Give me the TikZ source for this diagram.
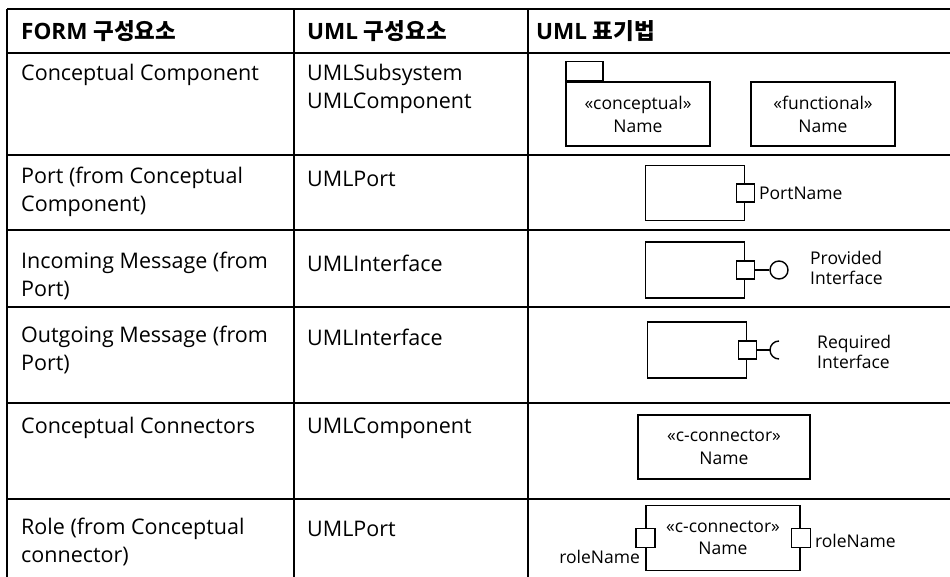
\documentclass[tikz,border=0pt]{standalone}
\usepackage{fontspec}
\setmainfont{Open Sans}
\newfontfamily\kr{Noto Sans CJK KR}
\usetikzlibrary{positioning}

\begin{document}
\begin{tikzpicture}[x=1pt, y=-1pt,
  grid/.style={line width=1.8pt},
  cell/.style={anchor=west, inner sep=0pt, align=left, font=\fontsize{21.5}{28}\selectfont},
  head/.style={cell, font=\fontsize{22.5}{28}\selectfont\bfseries},
  umlbox/.style={draw, line width=1.4pt, inner sep=0pt, align=center, font=\fontsize{17.5}{23}\selectfont},
  port/.style={draw, line width=1.4pt, fill=white, inner sep=0pt, minimum size=18pt},
  small/.style={inner sep=0pt, align=left, font=\fontsize{17.5}{20}\selectfont}]
\useasboundingbox (0,0) rectangle (950,577);

% table lines
\foreach \y in {9,53,155,230,307,403,499}
  \draw[grid] (7,\y) -- (950,\y);
\foreach \x in {7,294,528}
  \draw[grid] (\x,9) -- (\x,577);

% header
\node[head] (h1) at (21,31) {FORM {\kr 구성요소}};
\node[head] (h2) at (307,31) {UML {\kr 구성요소}};
\node[head] (h3) at (536,31) {UML {\kr 표기법}};

% FORM column
\node[cell] (f1) at (21,75) {Conceptual Component};
\node[cell] (f2) at (21,192) {Port (from Conceptual\\Component)};
\node[cell] (f3) at (21,276) {Incoming Message (from\\Port)};
\node[cell] (f4) at (21,350) {Outgoing Message (from\\Port)};
\node[cell] (f5) at (21,428) {Conceptual Connectors};
\node[cell] (f6) at (21,542) {Role (from Conceptual\\connector)};

% UML column
\node[cell] (u1) at (307,89) {UMLSubsystem\\UMLComponent};
\node[cell] (u2) at (307,179) {UMLPort};
\node[cell] (u3) at (307,263) {UMLInterface};
\node[cell] (u4) at (307,337) {UMLInterface};
\node[cell] (u5) at (307,428) {UMLComponent};
\node[cell] (u6) at (307,529) {UMLPort};

% notation: components
\node[umlbox, minimum width=144pt, minimum height=64pt] (concept) at (638,114) {«conceptual»\\Name};
\node[draw, line width=1.4pt, inner sep=0pt, minimum width=37pt, minimum height=19pt,
  anchor=south west] (tab) at (concept.north west) {};
\node[umlbox, minimum width=144pt, minimum height=64pt] (func) at (823,114) {«functional»\\Name};

% port
\node[umlbox, minimum width=99pt, minimum height=55pt] (comp1) at (695,193) {};
\node[port] (p1) at (comp1.east) {};
\node[small, right=4pt of p1] (pname) {PortName};

% provided interface
\node[umlbox, minimum width=99pt, minimum height=56pt] (comp2) at (695,270) {};
\node[port] (p2) at (comp2.east) {};
\node[draw, circle, line width=1.4pt, inner sep=0pt, minimum size=18pt] (prov) at (779,270) {};
\draw[line width=1.4pt] (p2) -- (prov);
\node[small, anchor=west] (provtxt) at (810,268) {Provided\\Interface};

% required interface
\node[umlbox, minimum width=99pt, minimum height=56pt] (comp3) at (697,350) {};
\node[port] (p3) at (comp3.east) {};
\coordinate (sock) at (770,350);
\draw[line width=1.4pt] (p3) -- (sock);
\draw[line width=1.4pt] (sock) ++(9,9) arc[start angle=90, end angle=270, radius=9];
\node[small, anchor=west] (reqtxt) at (817,352) {Required\\Interface};

% connector
\node[umlbox, minimum width=172pt, minimum height=64pt] (conn) at (724,447) {«c-connector»\\Name};

% roles
\node[umlbox, minimum width=154pt, minimum height=65pt, font=\fontsize{17.5}{22}\selectfont] (role) at (723,538) {«c-connector»\\Name};
\node[port, minimum size=19pt] (lport) at (role.west) {};
\node[port, minimum size=19pt] (rport) at (role.east) {};
\node[small, anchor=north east] (lrole) at ([xshift=5pt, yshift=-2pt]lport.south west) {roleName};
\node[small, anchor=west] (rrole) at ([xshift=4pt, yshift=-3pt]rport.east) {roleName};
\end{tikzpicture}
\end{document}
